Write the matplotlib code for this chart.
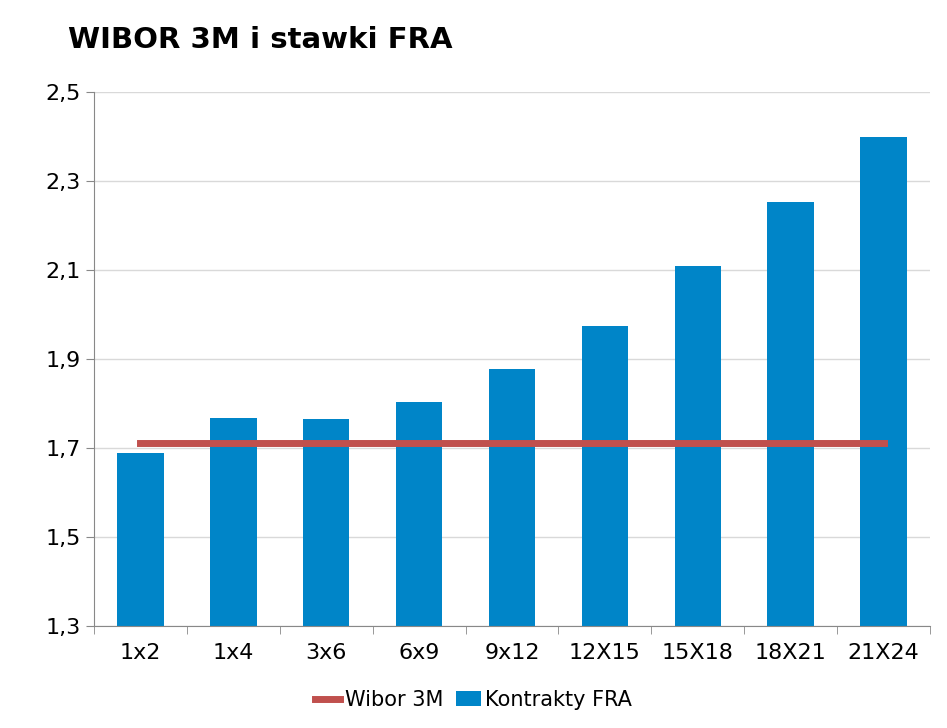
import matplotlib
matplotlib.use('Agg')
import matplotlib.pyplot as plt
import numpy as np

categories = ['1x2', '1x4', '3x6', '6x9', '9x12', '12X15', '15X18', '18X21', '21X24']
fra = [1.689, 1.767, 1.765, 1.803, 1.878, 1.974, 2.109, 2.253, 2.399]
wibor = [1.711] * len(categories)

plt.rcParams['font.family'] = 'DejaVu Sans'
fig = plt.figure(figsize=(9.47, 7.28), dpi=100)
ax = fig.add_axes([94 / 947, 1 - 626 / 728, 836 / 947, 534 / 728])

x = np.arange(len(categories))
ax.bar(x, fra, width=0.5, bottom=0, color='#0085C8', label='Kontrakty FRA', zorder=2)
ax.plot(x, wibor, color='#C0504D', linewidth=5, label='Wibor 3M', zorder=3)

ax.set_ylim(1.3, 2.5)
ax.set_xlim(-0.5, len(categories) - 0.5)
yt = [1.3, 1.5, 1.7, 1.9, 2.1, 2.3, 2.5]
ax.set_yticks(yt)
ax.set_yticklabels([f'{v:.1f}'.replace('.', ',') for v in yt], fontsize=16)
ax.set_xticks(x)
ax.set_xticklabels(categories, fontsize=16)
ax.set_xticks(np.arange(-0.5, len(categories)), minor=True)
ax.tick_params(axis='x', which='major', length=0, pad=12)
ax.tick_params(axis='x', which='minor', length=6, color='#888888')
ax.tick_params(axis='y', length=6, color='#888888')
ax.grid(axis='y', color='#D9D9D9', linewidth=1, zorder=0)
for s in ['top', 'right']:
    ax.spines[s].set_visible(False)
ax.spines['left'].set_color('#888888')
ax.spines['bottom'].set_color('#888888')

fig.text(68 / 947, 1 - 40 / 728, 'WIBOR 3M i stawki FRA', fontsize=21, fontweight='bold', va='center')
fig.legend(loc='center', bbox_to_anchor=(0.5, 1 - 700 / 728), ncol=2, frameon=False,
           fontsize=15, handlelength=1.2, columnspacing=0.6, handletextpad=0.2)

fig.savefig('out.png', dpi=100)
